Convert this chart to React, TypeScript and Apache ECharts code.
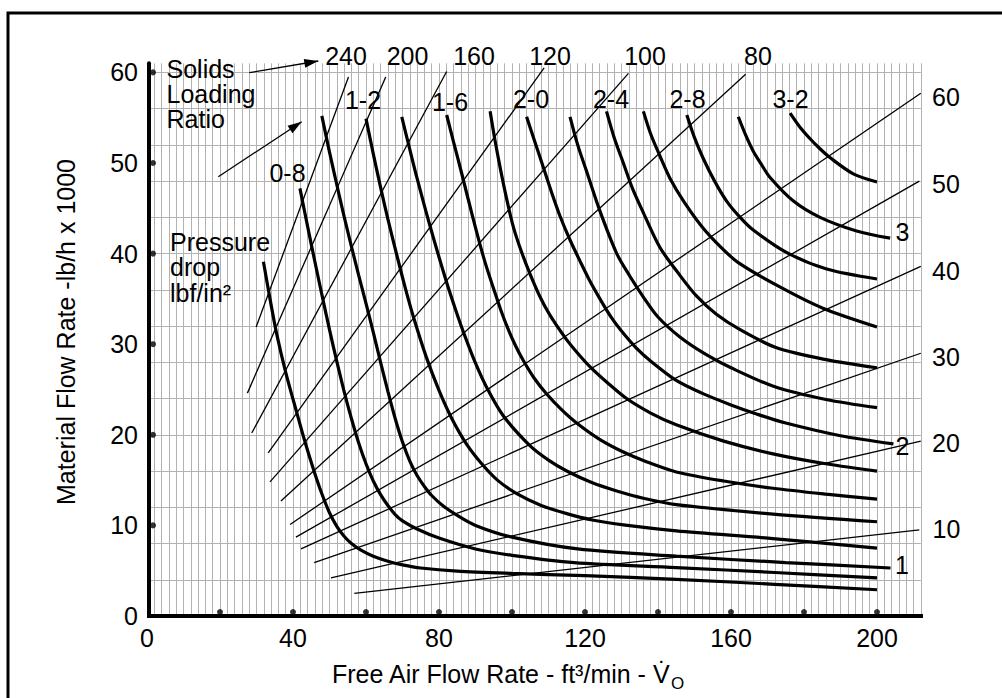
import React, { useEffect, useRef } from "react";
import * as echarts from "echarts";

const FONT = '"Liberation Sans", Arial, Helvetica, sans-serif';

// ---- axis ticks ----
const xTickLabels = [0, 40, 80, 120, 160, 200];
const xDotTicks = [20, 40, 60, 80, 100, 120, 140, 160, 180, 200];
const yTickLabels = [0, 10, 20, 30, 40, 50, 60];
const yDotTicks = [10, 20, 30, 40, 50, 60];

// ---- solids loading ratio lines (straight, read endpoints) ----
const ratioNames = ["240", "200", "160", "120", "100", "80", "60", "50", "40", "30", "20", "10"];
const ratioStart = [
  [29.9, 31.9], [27.5, 24.6], [28.7, 20.2], [33.2, 18.0], [33.7, 14.8], [36.7, 12.7],
  [39.2, 10.1], [40.8, 8.7], [42.2, 7.4], [45.8, 5.9], [50.4, 4.2], [56.8, 2.5],
];
const ratioEnd = [
  [55.2, 59.5], [65.4, 59.5], [82.1, 60.1], [108.8, 60.5], [131.9, 59.9], [164.0, 59.8],
  [212.0, 57.7], [211.6, 48.0], [212.0, 38.6], [212.0, 29.0], [212.0, 19.3], [211.6, 9.5],
];

// ---- pressure drop curves (lbf/in2) ----
const pressureNames = ["0.6", "0.8", "1.0", "1.2", "1.4", "1.6", "1.8", "2.0", "2.2", "2.4", "2.6", "2.8", "3.0", "3.2"];
const curve06 = [[31.9, 39.1], [33.7, 35], [35.5, 31.2], [38, 26.9], [41, 22.5], [43.3, 19.2], [45.6, 16.2], [47.8, 13.6], [50, 11.4], [52, 9.9], [54, 8.8], [56, 8], [58.5, 7.3], [62, 6.6], [66, 6.05], [70, 5.65], [75, 5.3], [85, 4.95], [100, 4.7], [120, 4.45], [145, 4.05], [172, 3.5], [200, 2.9]];
const curve08 = [[41.9, 47.2], [44, 43], [46, 39.1], [48, 35.3], [50, 31.6], [52, 28.1], [54, 24.8], [56, 21.8], [58, 19.1], [60, 16.8], [62, 14.9], [64, 13.4], [66, 12.2], [68, 11.2], [70, 10.5], [74, 9.6], [80, 8.6], [90, 7.4], [100, 6.7], [117, 5.9], [145, 5.35], [172, 4.8], [200, 4.2]];
const curve10 = [[47.9, 55.2], [50, 51.2], [52, 47.6], [54, 44.1], [56, 40.8], [58, 37.6], [60, 34.5], [62, 31.3], [64, 28], [66, 24.8], [68, 21.8], [70, 19.2], [72, 17.1], [74, 15.5], [76, 14.3], [78, 13.3], [81, 12.2], [85, 11.1], [90, 10], [100, 8.7], [118, 7.4], [145, 6.6], [175, 5.9], [203.7, 5.3]];
const curve12 = [[60, 54.9], [62, 51], [64, 47.3], [66, 43.8], [68.4, 39.9], [70.7, 36.3], [73, 33], [76.5, 28.6], [80, 24.9], [83.5, 21.8], [87.5, 19], [91.7, 16.8], [96, 15], [101.3, 13.5], [108, 12.2], [115, 11.3], [122, 10.6], [130.5, 10.05], [145, 9.4], [171.5, 8.55], [200, 7.5]];
const curve14 = [[69.8, 55.1], [72, 51.5], [74, 48.3], [77.5, 43.1], [82.1, 36.8], [84.8, 33.5], [87, 31], [90, 27.9], [93.1, 25.2], [97.6, 22.1], [104.9, 18.8], [110, 17.2], [115, 16], [122, 14.7], [128.7, 13.8], [136, 13], [145, 12.3], [171.5, 11.25], [200, 10.4]];
const curve16 = [[82.1, 55.3], [84, 52.3], [86, 49.2], [88, 46], [90.3, 42.4], [92.5, 39.2], [94.9, 36.2], [97, 33.7], [99, 31.6], [101, 29.8], [103.1, 28.2], [106, 26.3], [109.5, 24.5], [113.5, 22.8], [117.7, 21.3], [124, 19.5], [130.5, 18.1], [137, 17], [145, 15.9], [158, 14.9], [171.5, 14.1], [186, 13.45], [200, 12.9]];
const curve18 = [[94, 55.7], [95.3, 52.6], [96.7, 49.6], [98.5, 46.1], [100.4, 42.9], [102.6, 40.2], [104.9, 37.8], [107.6, 35.3], [110.4, 33.2], [114.6, 30.7], [118, 29], [121.4, 27.5], [126, 25.8], [131.4, 24], [138, 22.4], [145, 21.1], [158, 19.3], [171.5, 17.9], [186, 16.8], [200, 16]];
const curve20 = [[104, 55.1], [106.3, 52.3], [108.6, 49.5], [110.9, 46.7], [113.2, 44.1], [115.9, 41.5], [118.6, 39.2], [121.3, 37], [124.1, 35], [127.3, 32.9], [130.5, 31.2], [134, 29.6], [137.8, 28.2], [145, 26], [152, 24.6], [160, 23.3], [167, 22.3], [175, 21.3], [190, 19.9], [204.5, 19]];
const curve22 = [[115.9, 55.1], [118, 52], [120.5, 49], [124, 44.8], [128.7, 40], [132.3, 37.5], [136, 35.2], [140, 33], [146, 30.8], [153, 28.9], [160, 27.4], [172, 25.3], [186, 23.9], [200, 23]];
const curve24 = [[125.9, 55.7], [128, 52.8], [130.5, 50], [133, 47.2], [136, 44.5], [140.5, 40.7], [146, 37.6], [150.6, 35.3], [156, 33.3], [162.5, 31.6], [172.5, 29.6], [186, 28.3], [200, 27.4]];
const curve26 = [[136, 55.7], [138, 53.2], [140.5, 50.8], [143.3, 48.3], [147, 45.8], [152, 43], [157, 40.8], [162, 39], [173, 36.4], [185, 34], [200, 31.9]];
const curve28 = [[147.9, 55.3], [150, 52.8], [152.4, 50.5], [155.5, 48], [158.8, 45.8], [162.5, 44], [166.1, 42.6], [175.3, 40.1], [186.2, 38.3], [200, 37.2]];
const curve30 = [[162, 55.1], [164, 53.1], [166.1, 51.3], [168.4, 49.8], [170.7, 48.4], [177.1, 45.8], [184.4, 44], [194.4, 42.5], [203.6, 41.7]];
const curve32 = [[176.2, 55.5], [178.8, 54], [181.6, 52.7], [184.3, 51.6], [187.1, 50.6], [193.5, 48.8], [200, 47.9]];
const pressureCurves = [curve06, curve08, curve10, curve12, curve14, curve16, curve18, curve20, curve22, curve24, curve26, curve28, curve30, curve32];

// ---- annotation texts ----
const topRatioLabels = ["240", "200", "160", "120", "100", "80"];
const rightRatioLabels = ["60", "50", "40", "30", "20", "10"];
const curveTopLabels = ["0-8", "1-2", "1-6", "2-0", "2-4", "2-8", "3-2"];
const curveEndLabels = ["3", "2", "1"];
const solidsNote = "Solids\nLoading\nRatio";
const pressureNote = "Pressure\ndrop\nlbf/in\u00b2";

// layout (pixels) for annotations
const L = {
  topRatio: [[346, 56], [407.5, 56], [474, 56], [550, 56], [645, 56], [758, 56]],
  rightRatio: [[946, 97], [946, 184], [946, 270.5], [946, 356.5], [946, 443], [946.5, 529]],
  curveTop: [[287.5, 173], [363, 100], [450, 102], [531, 99], [611, 99], [687.5, 99], [790.5, 99]],
  curveEnd: [[902.5, 232], [902.5, 446], [902, 565]],
};

const GRID_LEFT = 147;
const PX_X = 3.65;
const Y0 = 616;
const PX_Y = 9.06;
const X_MAX = 212;
const Y_MAX = 61;

function arrowHead(x1: number, y1: number, x2: number, y2: number, len = 14, half = 4.5) {
  const dx = x2 - x1, dy = y2 - y1;
  const d = Math.hypot(dx, dy);
  const ux = dx / d, uy = dy / d;
  const bx = x2 - ux * len, by = y2 - uy * len;
  return [[x2, y2], [bx - uy * half, by + ux * half], [bx + uy * half, by - ux * half]];
}

function txt(t: string, x: number, y: number, align = "center", extra: any = {}) {
  return {
    type: "text",
    x, y,
    silent: true,
    z: 100,
    style: {
      text: t,
      fill: "#000",
      fontSize: 25,
      fontFamily: FONT,
      align, textAlign: align,
      verticalAlign: "middle", textVerticalAlign: "middle",
      ...extra,
    },
  };
}

export default function App() {
  const ref = useRef<HTMLDivElement>(null);
  useEffect(() => {
    const chart = echarts.init(ref.current!, null, { renderer: "svg", width: 1002, height: 698 });
    const gridColor = "#b2b2b2";
    const hColors: string[] = [];
    for (let i = 0; i < 16; i++) hColors.push(gridColor);
    hColors.push("rgba(0,0,0,0)");

    const series: any[] = [];
    ratioNames.forEach((n, i) => {
      series.push({
        name: "ratio " + n, type: "line", data: [ratioStart[i], ratioEnd[i]],
        symbol: "none", z: 3, lineStyle: { color: "#000", width: 1.3 }, silent: true,
      });
    });
    pressureCurves.forEach((c, i) => {
      series.push({
        name: "dp " + pressureNames[i], type: "line", data: c, smooth: 0.3,
        symbol: "none", z: 4, lineStyle: { color: "#000", width: 3.2, cap: "butt" }, silent: true,
      });
    });
    // extended x-axis line
    series.push({
      name: "x axis", type: "line", data: [[0, 0], [215, 0]], symbol: "none", clip: false, z: 6,
      lineStyle: { color: "#000", width: 4 }, silent: true,
    });
    series.push({
      name: "x dots", type: "scatter", data: xDotTicks.map((v) => [v, 0]), symbol: "circle",
      symbolSize: 6, symbolOffset: [0, -4], itemStyle: { color: "#000" }, z: 7, clip: false, silent: true,
    });
    series.push({
      name: "y dots", type: "scatter", data: yDotTicks.map((v) => [0, v]), symbol: "circle",
      symbolSize: 6, symbolOffset: [6, 0], itemStyle: { color: "#000" }, z: 7, clip: false, silent: true,
    });

    const graphic: any[] = [
      { type: "rect", silent: true, z: 100, shape: { x: 8, y: 13, width: 1020, height: 720 }, style: { fill: "none", stroke: "#000", lineWidth: 3 } },
    ];
    topRatioLabels.forEach((t, i) => graphic.push(txt(t, L.topRatio[i][0], L.topRatio[i][1])));
    rightRatioLabels.forEach((t, i) => graphic.push(txt(t, L.rightRatio[i][0], L.rightRatio[i][1])));
    curveTopLabels.forEach((t, i) => graphic.push(txt(t, L.curveTop[i][0], L.curveTop[i][1])));
    curveEndLabels.forEach((t, i) => graphic.push(txt(t, L.curveEnd[i][0], L.curveEnd[i][1])));
    graphic.push(txt(solidsNote, 166.5, 94, "left", { lineHeight: 25.3 }));
    graphic.push(txt(pressureNote, 170, 267.3, "left", { lineHeight: 25.4 }));
    // arrows
    const arrows = [[249.3, 72.7, 318.3, 61], [218.3, 176.7, 301.7, 121.7]];
    arrows.forEach((a) => {
      graphic.push({ type: "line", silent: true, z: 100, shape: { x1: a[0], y1: a[1], x2: a[2], y2: a[3] }, style: { stroke: "#000", lineWidth: 1.3 } });
      graphic.push({ type: "polygon", silent: true, z: 100, shape: { points: arrowHead(a[0], a[1], a[2], a[3]) }, style: { fill: "#000" } });
    });
    // axis titles
    graphic.push({
      type: "text", x: 332, y: 674, silent: true, z: 100,
      style: {
        text: "{n|Free Air Flow Rate - ft\u00b3/min - V\u0307}{s|O}",
        align: "left", textAlign: "left", verticalAlign: "middle", textVerticalAlign: "middle",
        fill: "#000", fontSize: 25, fontFamily: FONT,
        rich: {
          n: { fontSize: 25, fontFamily: FONT, fill: "#000", lineHeight: 36 },
          s: { fontSize: 17, fontFamily: FONT, fill: "#000", lineHeight: 18, verticalAlign: "bottom" },
        },
      },
    });
    graphic.push({
      type: "text", x: 66, y: 332, rotation: Math.PI / 2, silent: true, z: 100,
      style: {
        text: "Material Flow Rate -lb/h x 1000",
        align: "center", textAlign: "center", verticalAlign: "middle", textVerticalAlign: "middle",
        fill: "#000", fontSize: 25, fontFamily: FONT,
      },
    });

    chart.setOption({
      animation: false,
      backgroundColor: "#fff",
      textStyle: { fontFamily: FONT },
      grid: { left: GRID_LEFT, top: Y0 - Y_MAX * PX_Y, width: X_MAX * PX_X, height: Y_MAX * PX_Y, containLabel: false },
      xAxis: {
        type: "value", min: 0, max: X_MAX, interval: 2,
        axisLine: { show: false }, axisTick: { show: false },
        axisLabel: {
          formatter: (v: number) => (xTickLabels.indexOf(v) >= 0 ? String(v) : ""),
          fontSize: 25, color: "#000", fontFamily: FONT, margin: 9,
        },
        splitLine: { show: true, lineStyle: { color: gridColor, width: 1 } },
      },
      yAxis: [
        {
          type: "value", position: "left", min: 0, max: Y_MAX, interval: 4,
          axisLine: { show: false }, axisTick: { show: false }, axisLabel: { show: false },
          splitLine: { show: true, lineStyle: { color: hColors, width: 1 } },
        },
        {
          type: "value", position: "left", min: 0, max: Y_MAX, interval: 10, offset: -2,
          axisLine: { show: true, lineStyle: { color: "#000", width: 4 } }, axisTick: { show: false },
          axisLabel: {
            formatter: (v: number) => (yTickLabels.indexOf(v) >= 0 ? String(v) : ""),
            fontSize: 25, color: "#000", fontFamily: FONT, margin: 11,
          },
          splitLine: { show: false },
        },
      ],
      series,
      graphic,
    });
    return () => chart.dispose();
  }, []);
  return <div ref={ref} style={{ position: "absolute", left: 0, top: 0, width: 1002, height: 698, background: "#fff" }} />;
}
